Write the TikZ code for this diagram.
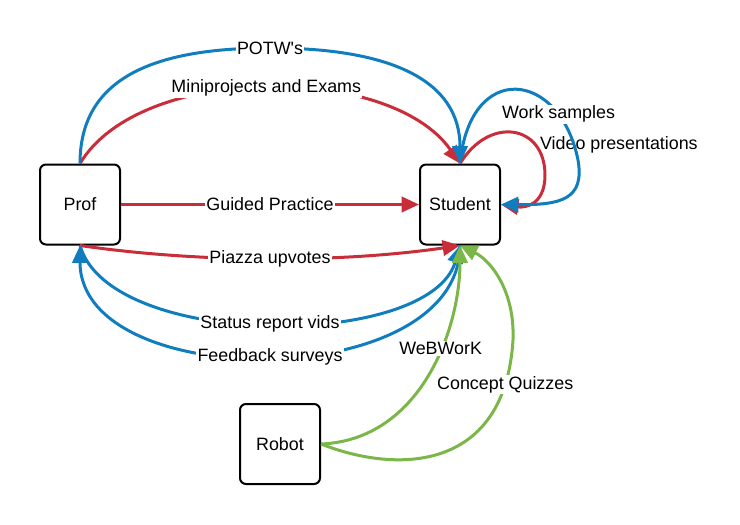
\documentclass[tikz,border=0pt]{standalone}
\usepackage{fontspec}
\setmainfont{Liberation Sans}
\usepackage{tikz}
\usetikzlibrary{arrows.meta}
\usepackage{xcolor}
\definecolor{lcred}{RGB}{201,45,57}
\definecolor{lcblue}{RGB}{16,125,190}
\definecolor{lcgreen}{RGB}{122,182,72}

\begin{document}
\begin{tikzpicture}[x=0.75pt, y=-0.75pt,
		font=\fontsize{13.4}{16}\selectfont,
		box/.style={draw, line width=1.5pt, rounded corners=4.5pt, minimum width=60pt, minimum height=60pt, inner sep=0pt},
		lbl/.style={fill=white, text=black, inner sep=1pt},
		flow/.style={line width=2.25pt, -{Triangle[length=13pt, width=11.5pt]}}]
\useasboundingbox (0,0) rectangle (740,525);

			\node[box] (prof) at (80,204.5) {Prof};
			\node[box] (student) at (460,204.5) {Student};
			\node[box] (robot) at (280,444) {Robot};
			
% red: prof to student
\draw[flow, lcred] (prof.north) .. controls (140,63) and (390,63) .. node[lbl] {Miniprojects and Exams} (student.north);
			\draw[flow, lcred] (prof.east) -- node[lbl] {Guided Practice} (student.west);
			\draw[flow, lcred] (prof.south) .. controls (200,263) and (340,263) .. node[lbl] {Piazza upvotes} (student.south);
			\draw[flow, lcred] (student.north) .. controls (490,115) and (545,125) .. node[pos=0.75, anchor=west, text=black, inner sep=1pt, xshift=1pt] {Video presentations} (545,175) .. controls (545,205) and (525,208) .. (student.east);
			
% blue
\draw[flow, lcblue] (prof.north) .. controls (80,80) and (150,48) .. (270,48) node[lbl] {POTW\textquotesingle s} .. controls (390,48) and (460,80) .. (student.north);
			\draw[flow, lcblue] (student.north) .. controls (470,60) and (560,70) .. node[lbl, pos=0.79] {Work samples} (578,160) .. controls (585,200) and (560,205) .. (student.east);
			\draw[flow, lcblue] (prof.south) .. controls (110,350) and (430,350) .. node[lbl] {Status report vids} (student.south);
			\draw[flow, lcblue] (student.south) .. controls (460,394) and (80,394) .. node[lbl] {Feedback surveys} (prof.south);
			
% green: robot to student
\draw[flow, lcgreen] (robot.east) .. controls (420,440) and (460,330) .. node[lbl, pos=0.61] {WeBWorK} (student.south);
			\draw[flow, lcgreen] (robot.east) .. controls (400,475) and (505,470) .. node[lbl, pos=0.87] {Concept Quizzes} (513,340) .. controls (515,290) and (490,260) .. (student.south);
		\end{tikzpicture}
\end{document}
